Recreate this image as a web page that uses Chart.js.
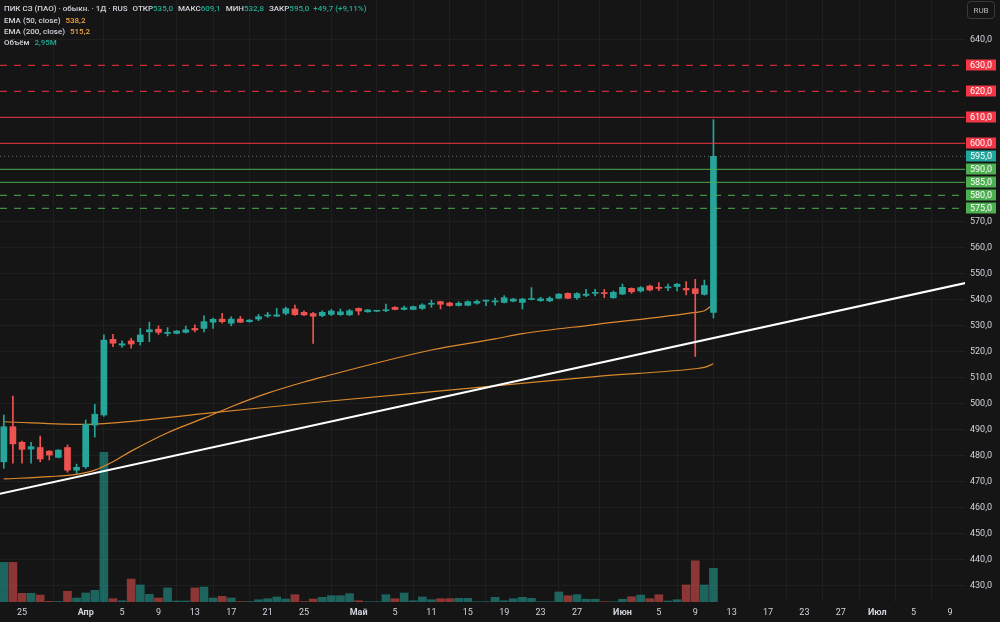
<!DOCTYPE html>
<html lang="ru"><head><meta charset="utf-8">
<script src="https://cdn.jsdelivr.net/npm/chart.js@4.4.1/dist/chart.umd.min.js"></script>
<style>
html,body{margin:0;padding:0;background:#151515;overflow:hidden}
#wrap{position:relative;width:1000px;height:622px}
canvas{display:block}
</style></head><body>
<div id="wrap"><canvas id="chart" width="1000" height="622"></canvas></div>
<script>
// ---------------- data (daily bars, index 0 = 23 Mar) ----------------
const open  = [477.5,491.0,485.0,482.4,483.0,481.6,479.2,483.0,474.3,475.6,491.6,495.5,
  524.6,522.4,524.0,523.7,527.5,528.5,526.9,526.9,527.3,528.8,528.8,531.2,532.4,530.8,532.4,531.4,
  532.4,533.6,533.5,534.6,536.3,535.0,534.5,533.7,534.2,534.1,534.0,536.5,535.2,535.4,535.6,536.9,
  536.1,536.1,536.5,538.1,539.1,538.6,537.6,537.7,538.5,539.3,539.0,538.8,539.3,538.8,539.9,539.5,
  539.4,540.4,542.3,540.6,541.5,542.3,542.4,540.6,542.0,544.2,543.2,545.1,544.6,544.4,544.9,544.2,
  544.1,541.9,535.0];
const high  = [495.5,502.8,485.5,485.0,487.4,481.8,482.2,484.0,476.6,493.6,499.6,526.3,
  526.5,524.0,525.0,528.8,531.2,529.8,529.1,528.0,529.7,530.2,533.6,532.8,534.6,533.3,533.4,532.2,
  534.2,535.0,536.5,537.0,537.8,535.6,535.0,535.6,536.1,536.3,536.1,536.7,536.1,535.7,538.2,537.2,
  537.4,537.4,538.3,539.7,539.3,538.9,539.1,539.4,539.7,539.7,540.5,541.4,540.4,540.4,544.5,540.8,
  541.0,542.2,542.5,542.6,543.8,543.8,543.8,543.2,545.9,544.4,544.9,545.5,546.4,545.9,546.1,546.8,
  547.7,547.4,609.1];
const low   = [475.0,477.0,477.0,477.0,477.5,478.2,479.0,473.5,473.0,475.0,487.0,495.0,
  521.8,521.5,521.2,522.4,523.7,526.5,525.9,526.7,527.0,527.5,527.5,528.8,530.8,529.8,531.0,531.2,
  531.8,533.0,533.5,534.0,533.8,533.7,523.0,533.3,533.7,533.8,533.8,534.0,535.0,535.3,535.2,535.9,
  535.9,536.0,536.1,536.9,536.3,537.3,537.4,537.5,538.1,537.6,537.7,538.6,539.0,536.3,539.8,539.2,
  539.1,540.2,540.2,540.0,541.0,541.3,540.6,540.4,541.8,542.3,542.8,543.2,543.3,543.3,543.2,541.7,
  518.0,541.6,532.8];
const close = [491.0,484.4,482.3,483.3,478.6,480.1,482.0,474.3,475.4,491.9,495.8,524.3,
  523.1,522.9,522.8,526.3,528.3,527.3,527.3,527.8,528.3,528.2,531.4,532.3,531.4,532.4,531.2,532.0,
  533.3,534.0,534.0,536.4,534.1,534.0,533.5,535.0,535.5,535.2,535.6,535.5,535.9,535.6,535.9,536.1,
  536.7,537.2,537.8,538.3,538.1,537.6,538.5,539.1,539.2,539.6,539.3,540.6,540.1,540.1,540.2,540.2,
  540.4,542.0,540.4,542.2,542.0,542.6,542.2,542.7,544.6,542.9,544.5,543.6,544.2,544.7,545.8,543.6,
  542.2,545.3,595.0];
const volumeM = [3.47,3.47,0.76,0.76,0.61,0.06,0.04,0.94,0.35,0.79,1.02,13.1,
  0.29,0.11,2.01,1.49,0.67,0.35,1.23,0.09,0.09,1.23,1.31,0.35,0.50,0.35,0.04,0.04,
  0.20,0.29,0.44,0.26,0.64,0.04,0.26,0.41,0.55,0.55,0.73,0.11,0.03,0.03,0.64,0.29,
  0.79,0.11,0.44,0.20,0.29,0.29,0.32,0.32,0.03,0.03,0.41,0.11,0.29,0.41,0.32,0.03,
  0.03,0.88,0.55,0.64,0.24,0.24,0.03,0.03,0.24,0.46,0.61,0.29,0.64,0.09,0.20,1.49,
  3.61,1.49,2.95];

// EMA values at these bar indexes
const ema50At  = [0,5,8,10,12,14,18,22,25,29,33,35,47,54,57,65,76,77,78];
const ema50    = [470.9,471.8,472.7,474.3,477.5,481.6,488.7,494.3,498.7,503.9,508.2,510.1,520.5,524.8,526.8,530.3,535.0,535.6,538.2];
const ema200At = [0,9,11,23,35,54,65,76,77,78];
const ema200   = [492.9,491.9,492.2,496.4,500.6,506.7,510.3,513.3,513.8,515.2];

// trend line (bar index, price)
const trendAt    = [-1, 106];
const trendPrice = [464.8, 546.5];

// horizontal levels
const resistance = [600, 610, 620, 630];
const support    = [590, 585, 580, 575];
const dashedLevels = [630, 620, 580, 575];

// axis labels
const tickIndex = [2,9,13,17,21,25,29,33,39,43,47,51,55,59,63,68,72,76,80,84,88,92,96,100,104];
const tickText  = ['25','Апр','5','9','13','17','21','25','Май','5','11','15','19','23','27','Июн','5','9','13','17','23','27','Июл','5','9'];
const monthNames = ['Апр','Май','Июн','Июл'];
const priceTicks = [430,440,450,460,470,480,490,500,510,520,530,540,550,560,570,640];

// ---------------- presentation ----------------
const X_MIN = -0.418, X_MAX = 105.65;
const Y_MIN = 423.58, Y_MAX = 655.12;
const VOL_MAX = 52.7;
const UP = '#26a69a', DOWN = '#ef5350';
const UP_VOL = 'rgba(38,166,154,0.55)', DOWN_VOL = 'rgba(239,83,80,0.55)';
const RED_LINE = '#f23645', GREEN_LINE = '#4caf50';
const FONT = 'Roboto, "Liberation Sans", sans-serif';
const GRID = '#1f1f1f';

const n = close.length;
const upFlags = close.map((c, i) => c >= open[i]);
const fmt = v => v.toFixed(1).replace('.', ',');

const bodies = open.map((o, i) => ({x: i, y: [o, close[i]]}));
const wicks  = open.map((o, i) => ({x: i, y: [low[i], high[i]]}));
const vols   = volumeM.map((v, i) => ({x: i, y: v}));
const candleColors = upFlags.map(u => u ? UP : DOWN);
const volColors    = upFlags.map(u => u ? UP_VOL : DOWN_VOL);

function levelDs(v, color) {
  return {type: 'line', data: [{x: X_MIN, y: v}, {x: X_MAX, y: v}], borderColor: color,
    borderWidth: 1, borderDash: dashedLevels.includes(v) ? [7, 7] : [], pointRadius: 0,
    yAxisID: 'y', order: 1};
}

const datasets = [
  {type: 'bar', data: vols, backgroundColor: volColors, barThickness: 8, grouped: false, yAxisID: 'yv', order: 6},
  {type: 'line', data: ema200At.map((x, k) => ({x, y: ema200[k]})), borderColor: '#d9892c', borderWidth: 1.2, pointRadius: 0, cubicInterpolationMode: 'monotone', yAxisID: 'y', order: 5},
  {type: 'line', data: ema50At.map((x, k) => ({x, y: ema50[k]})), borderColor: '#e08a2e', borderWidth: 1.2, pointRadius: 0, cubicInterpolationMode: 'monotone', yAxisID: 'y', order: 5},
  {type: 'bar', data: wicks, backgroundColor: candleColors, barThickness: 1, minBarLength: 1, grouped: false, yAxisID: 'y', order: 4},
  {type: 'bar', data: bodies, backgroundColor: candleColors, barThickness: 6, minBarLength: 1, grouped: false, yAxisID: 'y', order: 3},
  {type: 'line', data: trendAt.map((x, k) => ({x, y: trendPrice[k]})), borderColor: '#ffffff', borderWidth: 2, pointRadius: 0, yAxisID: 'y', order: 1},
  {type: 'line', data: [{x: X_MIN, y: close[n - 1]}, {x: X_MAX, y: close[n - 1]}], borderColor: 'rgba(120,140,138,0.8)', borderWidth: 1, borderDash: [1, 3], pointRadius: 0, yAxisID: 'y', order: 1},
  ...resistance.map(v => levelDs(v, RED_LINE)),
  ...support.map(v => levelDs(v, GREEN_LINE)),
];

const bgPlugin = {
  id: 'bg',
  beforeDraw(chart) {
    const c = chart.ctx; c.save(); c.fillStyle = '#151515'; c.fillRect(0, 0, chart.width, chart.height); c.restore();
  }
};

const badgePlugin = {
  id: 'badges',
  afterDraw(chart) {
    const c = chart.ctx, ys = chart.scales.y, a = chart.chartArea;
    const items = [
      ...resistance.map(v => ({v, bg: RED_LINE})),
      ...support.map(v => ({v, bg: GREEN_LINE})),
      {v: close[n - 1], bg: '#22a59a'}
    ];
    c.save();
    c.font = '9px ' + FONT; c.textAlign = 'center'; c.textBaseline = 'middle';
    items.forEach(it => {
      const y = ys.getPixelForValue(it.v);
      c.fillStyle = it.bg; c.fillRect(a.right + 1, Math.round(y) - 5.5, 30, 11);
      c.fillStyle = '#ffffff'; c.fillText(fmt(it.v), a.right + 16, y + 0.5);
    });
    // currency button
    c.strokeStyle = '#3a3a3a'; c.lineWidth = 1;
    const bx = a.right + 2.5, by = 1.5, bw = 27, bh = 17;
    c.beginPath(); c.roundRect(bx, by, bw, bh, 3); c.stroke();
    c.fillStyle = '#b8b8b8'; c.font = '8px ' + FONT; c.fillText('RUB', bx + bw / 2, by + bh / 2 + 0.5);
    c.restore();
  }
};

const headerPlugin = {
  id: 'header',
  afterDraw(chart) {
    const c = chart.ctx;
    const grey = '#d1d4dc', teal = '#22ab94', orange = '#f7a23b', orange2 = '#f0a84a';
    c.save(); c.textBaseline = 'middle'; c.textAlign = 'left';
    c.font = '500 8px ' + FONT;
    const line = (parts, x, y) => {
      parts.forEach(([t, col, gap]) => { c.fillStyle = col; c.fillText(t, x, y); x += c.measureText(t).width + (gap || 0); });
    };
    const last = n - 1;
    const chg = close[last] - close[last - 1];
    const pct = (chg / close[last - 1] * 100).toFixed(2).replace('.', ',');
    line([
      ['ПИК СЗ (ПАО) · обыкн. · 1Д · RUS', grey, 5],
      ['ОТКР', grey], [fmt(open[last]), teal, 5],
      ['МАКС', grey], [fmt(high[last]), teal, 5],
      ['МИН', grey], [fmt(low[last]), teal, 5],
      ['ЗАКР', grey], [fmt(close[last]), teal, 4],
      ['+' + fmt(chg) + ' (+' + pct + '%)', teal]
    ], 4, 9);
    line([['EMA (50, close)', grey, 5], [fmt(ema50[ema50.length - 1]), orange]], 4, 21);
    line([['EMA (200, close)', grey, 5], [fmt(ema200[ema200.length - 1]), orange2]], 4, 32);
    line([['Объём', grey, 5], [volumeM[last].toFixed(2).replace('.', ',') + 'M', teal]], 4, 43);
    c.restore();
  }
};

new Chart(document.getElementById('chart'), {
  type: 'bar',
  data: {datasets},
  options: {
    responsive: false, animation: false,
    layout: {padding: 0, autoPadding: false},
    plugins: {legend: {display: false}, tooltip: {enabled: false}},
    scales: {
      x: {
        type: 'linear', position: 'bottom', min: X_MIN, max: X_MAX, offset: false,
        afterBuildTicks: s => { s.ticks = tickIndex.map(v => ({value: v})); },
        afterFit: s => { s.height = 20; s.paddingLeft = 0; s.paddingRight = 0; },
        grid: {color: GRID, drawTicks: false},
        border: {display: false},
        ticks: {
          autoSkip: false, maxRotation: 0, padding: 5, color: '#d1d4dc',
          font: ctx => ({family: FONT, size: 9, weight: (ctx.tick && monthNames.includes(tickText[tickIndex.indexOf(ctx.tick.value)])) ? 'bold' : 'normal'}),
          callback: v => { const k = tickIndex.indexOf(v); return k < 0 ? '' : tickText[k]; }
        }
      },
      y: {
        type: 'linear', position: 'right', min: Y_MIN, max: Y_MAX,
        afterBuildTicks: s => { s.ticks = priceTicks.map(v => ({value: v})); },
        afterFit: s => { s.width = 35; s.paddingTop = 0; s.paddingBottom = 0; },
        grid: {color: GRID, drawTicks: false},
        border: {display: false},
        ticks: {padding: 5, color: '#d1d4dc', font: {family: FONT, size: 9}, callback: v => fmt(v)}
      },
      yv: {type: 'linear', display: false, min: 0, max: VOL_MAX}
    }
  },
  plugins: [bgPlugin, badgePlugin, headerPlugin]
});
</script>
</body></html>
